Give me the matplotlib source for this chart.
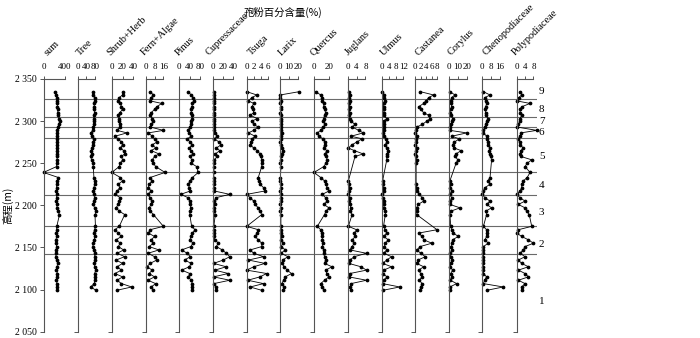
import numpy as np
import matplotlib.pyplot as plt

nan = np.nan

# sample elevations (m)
depth = [2335, 2331, 2328, 2324, 2321, 2317, 2314, 2310, 2307, 2303, 2300, 2296, 2293,
         2289, 2286, 2282, 2279, 2275, 2272, 2268, 2265, 2261, 2258, 2254, 2250, 2246,
         2239,
         2233, 2229, 2225, 2221, 2217, 2213, 2209, 2205, 2201, 2197, 2193, 2189,
         2175, 2171, 2167, 2163, 2159, 2155, 2151, 2147, 2143, 2139, 2135, 2131, 2127,
         2123, 2119, 2115, 2111, 2107, 2103, 2099]

taxa = ['sum', 'Tree', 'Shrub+Herb', 'Fern+Algae', 'Pinus', 'Cupressaceae', 'Tsuga',
        'Larix', 'Quercus', 'Juglans', 'Ulmus', 'Castanea', 'Corylus',
        'Chenopodiaceae', 'Polypodiaceae']

sum_pollen = [215, 240, 250, 255, 258, 262, 265, 270, 280, 295, 305, 285, 270, 262, 258, 255, 250,
              255, 250, 248, 252, 255, 250, 258, 250, 245,
              0,
              280, 255, 250, 245, 240, 250, 245, 240, 250, 255, 270, 300,
              250, 245, 240, 245, 235, 240, 245, 235, 240, 230, 245, 265, 255, 240, 262, 250,
              240, 255, 245, 255]
tree = [72, 70, 78, 80, 77, 76, 75, 78, 76, 75, 77, 74, 72, 70, 60, 65, 75, 72, 70, 66, 62, 65,
        60, 64, 70, 72,
        nan,
        75, 80, 78, 75, 72, 75, 78, 74, 72, 78, 85, 80,
        82, 78, 74, 80, 76, 72, 70, 75, 80, 78, 82, 76, 80, 84, 78, 82, 80, 76, 60, 85]
shrub_herb = [21, 20, 14, 12, 16, 18, 20, 15, 12, 14, 13, 16, 15, 10, 28, 6, 12, 18, 20, 16, 22,
              24, 18, 20, 16, 14,
              0,
              16, 20, 12, 15, 10, 6, 16, 14, 12, 8, 14, 24,
              14, 6, 12, 18, 8, 16, 12, 22, 10, 24, 8, 20, 10, 18, 6, 20, 10, 18, 37, 9]
fern_algae = [4, 7, 5, 4, 14.5, 10, 8, 5, 4, 6, 7, 5, 4, 16, 2.4, 6, 8, 10, 6, 9, 5, 12, 8, 6, 7, 9,
              17.5,
              4, 6, 3, 2.4, 5, 2, 4, 6, 5, 3, 4, 7,
              16, 4, 2.4, 8, 5, 7, 3, 12, 2, 8, 10, 4, 1, 6, 3, 8, 2, 9, 5, 7]
pinus = [34, 45, 53, 55, 50, 48, 46, 45, 47, 50, 46, 44, 40, 34, 38, 46, 30, 42, 50, 38, 45, 52,
         40, 48, 45, 66,
         72,
         50, 40, 35, 38, 42, 5, 34, 40, 42, 44, 41, 40,
         47, 60, 50, 45, 40, 52, 44, 9, 30, 42, 20, 46, 38, 9, 40, 35, 45, 50, 47, 50]
cupressaceae = [1, 1, 1, 1, 1.5, 1, 1, 1.5, 1, 1, 1.5, 1, 1, 2, 4, 8, 2, 12, 16, 6, 13, 4, 8, 2, 1, 1,
                1,
                1, 2, 1.5, 1, 2, 33, 5, 2, 3, 1.5, 2, 4,
                1, 1, 2, 0.5, 4, 10, 6, 18, 26, 33, 20, 0.5, 26, 3, 30, 0.5, 33, 1, 6, 6]
tsuga = [0, 2.9, 1.5, 0.5, 2, 1.5, 1.8, 2, 1, 3, 1.5, 2, 3.3, 2, 0.5, 2.4, 1.5, 1.2, 1, 2, 3, 3.8,
         4, 4.3, 4.3, 4.3,
         nan,
         3.3, 3.5, 3.8, 4.8, 5.2, 0, 1, 2, 2.4, 3.3, 3.8, 4.3,
         0, 3.3, 3, 2.4, 3.3, 4.3, 4.3, 1, 2, 4.8, 0.5, 5.2, 2, 0, 5.7, 3.8, 0.3, 4.8, 1, 4.3]
larix = [22, 0, 0.5, 1, 0.5, 1, 1, 0.5, 1, 1, 1.5, 1, 1, 1.5, 2, 1, 1, 0.5, 1, 2.5, 3, 2, 1, 1,
         0.5, 1,
         nan,
         0.5, 0.5, 1, 1, 0.5, 1, 1.5, 1, 0.5, 1, 0.5, 1,
         1, 1.5, 1, 2, 1, 3, 1.5, 6, 1, 9, 3, 2, 5, 8, 13, 6, 4, 2, 5, 3]
quercus = [2.2, 9, 11, 11, 13, 13, 14, 15.5, 14, 13, 12, 15, 12, 9, 4.4, 6.7, 12, 15, 14, 13, 17,
           15, 16, 17.8, 16, 13,
           0,
           9, 14, 15.5, 17.8, 20, 11, 15.5, 17.8, 13, 20, 16, 14,
           4.4, 9, 10, 11, 11, 12, 11, 13, 13, 14, 15.5, 14, 24, 15.5, 17, 20, 14, 9, 11, 13]
juglans = [0.5, 1, 0.5, 1, 0.5, 1, 0.5, 1, 0.7, 1, 1.5, 3.3, 2, 5, 7, 1.5, 6.5, 4, 2, 0.3, 3, 7,
           3.3, nan, nan, nan,
           nan,
           nan, 0.3, 0.5, 1, 0.5, 0.3, 1, 0.5, 1, 1.5, 1, 2,
           0.3, 4, 3, 3.5, 2, 3, 2, 1, 8.5, 3, 1, 0.5, 6, 8.5, 1, 0.5, 8.5, 1.5, 1, 1.5]
ulmus = [0, 1, 1.5, 2, 1, 1, 1.5, 1, 1, 2.8, 1, 1.5, 1.5, 1, 0.5, 1.5, 2.3, 2.8, 2, 2.8, 3.7, 3,
         2.8, 2.8, nan, nan,
         nan,
         nan, 0.5, 0.5, 1, 1, 0, 0.5, 1, 1.5, 1, 2, 2,
         1, 2, 2.8, 1, 3.7, 2, 1.5, 2.8, 1, 5.5, 2.8, 0.5, 5.5, 1, 0.5, 3, 1, 0.5, 10, 0.5]
castanea = [1.8, 6.8, 4.9, 4, 3.1, 1.2, 2, 3.1, 4.9, 5.5, 4.3, 2.5, 0.6, 0.3, 0, 0.5, 0.3, 0.2, 0,
            0.5, 0.3, 0, 0.2, 0.5, 0.3, nan,
            nan,
            nan, nan, 0.3, 0.5, 0.6, 1.5, 2.5, 3.1, 1, 0.5, 0.8, 0.5,
            nan, 8, 1.2, 2.5, 3.1, 6.1, 1.8, 0.6, 2, 3.7, 1, 0.5, 3.1, 1.2, 2, 2.5, 1.5, 2.5, 2, 1.8]
corylus = [1, 6.8, 3, 2, 2.5, 3, 2, 1, 2.5, 4, 3, 2.5, 1, 1, 20, 3, 11.7, 6, 4, 6, 13.6, 8, 7, 10,
           8, nan,
           nan,
           nan, 1, 2, 1.5, 3, 1, 3, 1.5, 1, 12.5, 2, 1,
           2, 3, 5, 10.5, 4, 3, 2.5, 3, 1.5, 2, 3, 2, 1.5, 4, 2, 3, 1.5, 8.7, 1, 1.5]
chenopodiaceae = [0.9, 7, 2.4, 3.5, 4, 3, 2.4, 3, 3.5, 5.4, 4, 3, 2.4, 1, 1, 4, 4, 5.4, 5, 7, 6, 7,
                  7.5, 8.4, nan, nan,
                  nan,
                  7, 5, 7, 2.4, 1, 0, 2.4, 7, 3.9, 8.4, 3, 3.9,
                  1, 3.9, 3.9, 3.9, 2.4, 5.4, 1, 0.9, 0.9, 0.9, 0.9, 0.5, 0.9, 0.9, 1, 3.9, 2, 1,
                  19, 3.9]
polypodiaceae = [1.6, 2.4, 1, 0, 6.4, 2.4, 1.6, 1.6, 2.4, 1.6, 1.6, 0.8, 0, 9.6, 2, 1.6, 0.8, 1.6,
                 1.6, 3.2, 2, 1.6, 2, 7.2, 5, 4,
                 6.4,
                 5, 3.2, 2.4, 2.4, 1.6, 0, 1.6, 4, 0.8, 4, 4.8, 6,
                 7.2, 0.8, 0, 2.4, 5.6, 8, 4, 3.2, 1.6, 4, 0.8, 2.4, 5.6, 0.8, 4, 5.6, 0.8, 4, 2.4,
                 2.4]

x_ticks = [[0, 400], [0, 40, 80], [0, 20, 40], [0, 8, 16], [0, 40, 80], [0, 20, 40],
           [0, 2, 4, 6], [0, 10, 20], [0, 20], [0, 4, 8], [0, 4, 8, 12], [0, 2, 4, 6, 8],
           [0, 10, 20], [0, 8, 16], [0, 4, 8]]

zone_bounds = [2326, 2305, 2293, 2280, 2239, 2212, 2175, 2142]
zone_names = ['9', '8', '7', '6', '5', '4', '3', '2', '1']
zone_name_y = [2335, 2314, 2299, 2286, 2258, 2223, 2192, 2153, 2086]

series = [sum_pollen, tree, shrub_herb, fern_algae, pinus, cupressaceae, tsuga, larix,
          quercus, juglans, ulmus, castanea, corylus, chenopodiaceae, polypodiaceae]

# layout (pixels)
W, H = 700, 338
spine_px = [43.5, 77.7, 111.7, 145.7, 179.3, 213.3, 246.7, 280, 314, 347.7, 381.7, 415.3,
            449, 482.3, 516.7]
bar_px = [21.3, 17.3, 21.7, 17.7, 21, 20, 21, 17.7, 15, 17.7, 21.7, 21.7, 17.7, 17.7, 16.7]
name_dx = [6, 4, 0, 0, 1, -3, 6, 3, 1, 2, 3, 5, 4, 5, 0]
panel_w = 33
y_top, y_bot = 79, 331.6
ax_b = 1 - y_bot / H
ax_h = (y_bot - y_top) / H
axis_col = '#555555'

plt.rcParams['font.family'] = ['Liberation Serif', 'DejaVu Serif']
cjk = ['Noto Sans CJK SC', 'DejaVu Sans']

fig = plt.figure(figsize=(7, 3.38), dpi=100)

# zone lines behind the panels
bg = fig.add_axes([43.5 / W, ax_b, (537 - 43.5) / W, ax_h])
bg.set_xlim(0, 1)
bg.set_ylim(2050, 2350)
bg.axis('off')
bg.hlines(zone_bounds, 0, 1, color='#6a6a6a', lw=0.8)
for name, yv in zip(zone_names, zone_name_y):
    bg.text(1.004, yv, name, fontsize=8, ha='left', va='center', clip_on=False)

d = np.array(depth)
for i, (name, vals) in enumerate(zip(taxa, series)):
    sx = spine_px[i]
    ax = fig.add_axes([sx / W, ax_b, panel_w / W, ax_h])
    ax.patch.set_alpha(0)
    ppu = bar_px[i] / x_ticks[i][-1]
    ax.set_xlim(0, panel_w / ppu)
    ax.set_ylim(2050, 2350)
    v = np.array(vals, dtype=float)
    m = ~np.isnan(v)
    ax.plot(v[m], d[m], '-o', color='black', lw=0.6, ms=1.7, clip_on=False)

    ax.xaxis.tick_top()
    ax.set_xticks(x_ticks[i])
    ax.set_xticklabels([str(t) for t in x_ticks[i]])
    ax.tick_params(axis='x', direction='out', length=2.5, width=0.7, pad=3.5,
                   labelsize=6.5, color=axis_col)
    ax.spines['top'].set_bounds(0, x_ticks[i][-1])
    for s in ['right', 'bottom']:
        ax.spines[s].set_visible(False)
    for s in ['top', 'left']:
        ax.spines[s].set_color(axis_col)
        ax.spines[s].set_linewidth(0.8)

    if i == 0:
        yt = [2350, 2300, 2250, 2200, 2150, 2100, 2050]
        ax.set_yticks(yt)
        ax.set_yticklabels([f'{t // 1000} {t % 1000:03d}' for t in yt])
        ax.tick_params(axis='y', direction='out', length=3, width=0.7, pad=2,
                       labelsize=7, color=axis_col)
    else:
        ax.set_yticks([2050])
        ax.set_yticklabels([])
        ax.tick_params(axis='y', direction='out', length=3, width=0.7, color=axis_col)

    fig.text((sx + name_dx[i]) / W, 1 - 57 / H, name, rotation=45, rotation_mode='anchor',
             ha='left', va='bottom', fontsize=7.5)

fig.text(283 / W, 1 - 12 / H, '孢粉百分含量(%)', family=cjk, fontsize=7.5,
         ha='center', va='center')
fig.text(8 / W, 1 - 205 / H, '高程(m)', family=cjk, fontsize=7.5, rotation=90,
         ha='center', va='center')

fig.savefig('out.png', dpi=100)
